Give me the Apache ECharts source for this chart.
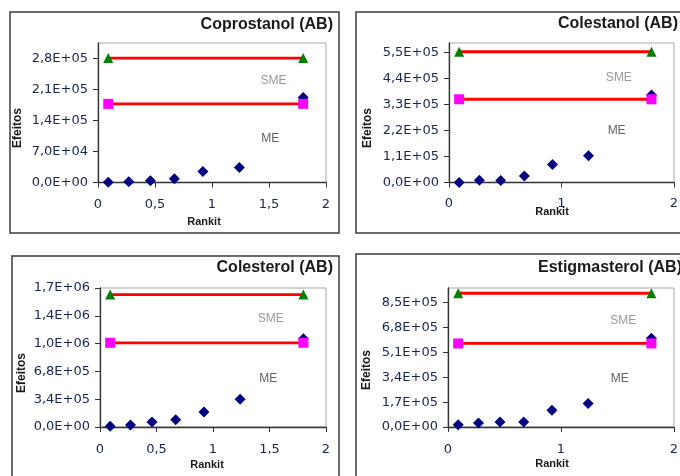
<!DOCTYPE html>
<html>
<head>
<meta charset="utf-8">
<script src="https://cdn.jsdelivr.net/npm/echarts@6/dist/echarts.min.js"></script>
<style>
html, body { margin: 0; padding: 0; background: #fff; }
#chart { width: 680px; height: 476px; }
</style>
</head>
<body>
<div id="chart"></div>
<script>
// data
var rankit = [0.09, 0.27, 0.46, 0.67, 0.92, 1.24, 1.80];
var titles = ['Coprostanol (AB)', 'Colestanol (AB)', 'Colesterol (AB)', 'Estigmasterol (AB)'];
var effCoprostanol = [500, 1500, 3800, 8300, 24800, 33900, 192000];
var effColestanol = [500, 9800, 8500, 28000, 76000, 113000, 370000];
var effColesterol = [8000, 24000, 61000, 90000, 183000, 338000, 1080000];
var effEstigmasterol = [16000, 27000, 34000, 34000, 114000, 160000, 606000];
var meValues = [177600, 352000, 1030000, 571000];
var smeValues = [281000, 553000, 1620000, 914000];
var yTicks = [
  [0, 70000, 140000, 210000, 280000],
  [0, 110000, 220000, 330000, 440000, 550000],
  [0, 340000, 680000, 1020000, 1360000, 1700000],
  [0, 170000, 340000, 510000, 680000, 850000]
];
var yMax = [315000, 590000, 1700000, 950000];
var xTicks = [[0, 0.5, 1, 1.5, 2], [0, 1, 2], [0, 0.5, 1, 1.5, 2], [0, 1, 2]];
var smeLabelAt = [[1.54, 230000], [1.51, 445000], [1.51, 1330000], [1.55, 724000]];
var meLabelAt = [[1.51, 98000], [1.49, 218000], [1.49, 587000], [1.52, 331000]];

var effects = [effCoprostanol, effColestanol, effColesterol, effEstigmasterol];

// layout of the four boxes (pixels)
var panels = [
  {frame: [10, 12, 329, 221], grid: [98, 43, 228, 139.5], title: [333, 25], rankit: [204, 222], efeitos: [18, 128]},
  {frame: [356, 12, 330, 221], grid: [449, 43, 225, 139.5], title: [678, 24], rankit: [552, 212], efeitos: [368, 128]},
  {frame: [12, 256, 327, 230], grid: [100, 288, 226, 139], title: [333, 268], rankit: [207, 465], efeitos: [22, 373]},
  {frame: [356, 254, 330, 230], grid: [448, 288, 226, 139], title: [682, 268], rankit: [552, 464], efeitos: [367, 370]}
];

var sans = '"Liberation Sans", Arial, sans-serif';

function sci(v) {
  if (v === 0) return '0,0E+00';
  var e = Math.floor(Math.log10(v));
  var m = (v / Math.pow(10, e)).toFixed(1);
  if (m === '10.0') { m = '1.0'; e += 1; }
  return m.replace('.', ',') + 'E+' + (e < 10 ? '0' : '') + e;
}

var grids = [], xAxes = [], yAxes = [], series = [], graphics = [];

panels.forEach(function (p, i) {
  grids.push({
    left: p.grid[0], top: p.grid[1], width: p.grid[2], height: p.grid[3],
    show: true, borderColor: '#a8a8a8', borderWidth: 1,
    containLabel: false, outerBoundsMode: 'none'
  });
  xAxes.push({
    type: 'value', gridIndex: i, min: 0, max: 2,
    splitLine: { show: false },
    axisLine: { onZero: false, lineStyle: { color: '#333', width: 1.3 } },
    axisTick: { length: 5, customValues: xTicks[i], lineStyle: { color: '#333' } },
    axisLabel: {
      customValues: xTicks[i], margin: i === 1 ? 15 : 16, color: '#1a2550',
      fontFamily: 'DejaVu Sans', fontSize: 13,
      formatter: function (v) { return String(v).replace('.', ','); }
    }
  });
  yAxes.push({
    type: 'value', gridIndex: i, min: 0, max: yMax[i],
    splitLine: { show: false },
    axisLine: { show: true, onZero: false, lineStyle: { color: '#333', width: 1.3 } },
    axisTick: { show: true, length: 5, customValues: yTicks[i], lineStyle: { color: '#333' } },
    axisLabel: {
      customValues: yTicks[i], margin: 10, color: '#1a2550',
      fontFamily: 'DejaVu Sans', fontSize: 13,
      formatter: sci
    }
  });

  series.push({
    type: 'scatter', xAxisIndex: i, yAxisIndex: i,
    symbol: 'diamond', symbolSize: 11,
    itemStyle: { color: '#000080', opacity: 1 },
    data: rankit.map(function (r, k) { return [r, effects[i][k]]; })
  });
  series.push({
    type: 'line', xAxisIndex: i, yAxisIndex: i,
    symbol: 'rect', symbolSize: 10,
    lineStyle: { color: '#ff0000', width: 2.8 },
    itemStyle: { color: '#ff00ff' },
    data: [[rankit[0], meValues[i]], [rankit[rankit.length - 1], meValues[i]]]
  });
  series.push({
    type: 'line', xAxisIndex: i, yAxisIndex: i,
    symbol: 'triangle', symbolSize: 10,
    lineStyle: { color: '#ff0000', width: 2.8 },
    itemStyle: { color: '#008000' },
    data: [[rankit[0], smeValues[i]], [rankit[rankit.length - 1], smeValues[i]]]
  });
  series.push({
    type: 'scatter', xAxisIndex: i, yAxisIndex: i,
    symbolSize: 0, silent: true,
    label: {
      show: true, position: 'inside', fontFamily: sans, fontSize: 12,
      formatter: function (d) { return d.name; },
      color: '#555'
    },
    data: [
      { name: 'SME', value: smeLabelAt[i], label: { color: '#808080' } },
      { name: 'ME', value: meLabelAt[i], label: { color: '#3a3a3a' } }
    ]
  });

  graphics.push({
    type: 'rect', silent: true,
    shape: { x: p.frame[0], y: p.frame[1], width: p.frame[2], height: p.frame[3] },
    style: { fill: null, stroke: '#3c3c3c', lineWidth: 1.5 }
  });
  graphics.push({
    type: 'text', x: p.title[0], y: p.title[1],
    style: { text: titles[i], align: 'right', verticalAlign: 'middle', font: 'bold 16px ' + sans, fill: '#1a1a1a' }
  });
  graphics.push({
    type: 'text', x: p.rankit[0], y: p.rankit[1],
    style: { text: 'Rankit', align: 'center', verticalAlign: 'middle', font: 'bold 11px ' + sans, fill: '#1a1a1a' }
  });
  graphics.push({
    type: 'text', x: p.efeitos[0], y: p.efeitos[1], rotation: Math.PI / 2,
    style: { text: 'Efeitos', align: 'center', verticalAlign: 'middle', font: 'bold 12px ' + sans, fill: '#1a1a1a' }
  });
});

var chart = echarts.init(document.getElementById('chart'), null, { renderer: 'canvas' });
chart.setOption({
  backgroundColor: '#ffffff',
  animation: false,
  grid: grids,
  xAxis: xAxes,
  yAxis: yAxes,
  series: series,
  graphic: graphics
});
</script>
</body>
</html>
